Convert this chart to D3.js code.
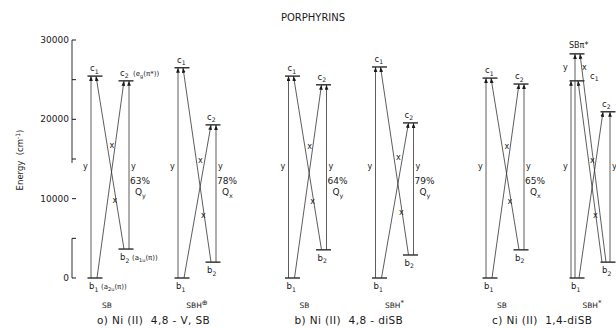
<!DOCTYPE html>
<html>
<head>
<meta charset="utf-8">
<script src="https://cdn.jsdelivr.net/npm/d3@7"></script>
<style>
  body { margin: 0; background: #fff; }
  text { font-family: "DejaVu Sans", sans-serif; fill: #1a1a1a; white-space: pre; }
</style>
</head>
<body>
<svg id="chart" width="616" height="329"></svg>
<script>
// panels and the two diagrams (SB, SBH*) in each
const panels = ['a', 'b', 'c'];
const panelTitles = ['o) Ni (II)  4,8 - V, SB', 'b) Ni (II)  4,8 - diSB', 'c) Ni (II)  1,4-diSB'];
const diagrams = ['SB', 'SBH'];
const diagramLabels = ['SB', 'SBH'];

// orbital energies (cm-1), order: a-SB, a-SBH, b-SB, b-SBH, c-SB, c-SBH
const b1Energy = [0, 0, 0, 0, 0, 0];
const b2Energy = [3650, 2000, 3550, 2900, 3550, 2000];
const c1Energy = [25450, 26500, 25450, 26600, 25200, 24850];
const c2Energy = [24850, 19300, 24350, 19550, 24450, 20950];
const sbPiStarEnergy = 28250; // only in c) SBH*

// y-polarised share of the lowest band
const percents = ['63%', '78%', '64%', '79%', '65%', null];
const qBands = ['y', 'x', 'y', 'y', 'x', null];

const yTicks = [0, 5000, 10000, 15000, 20000, 25000, 30000];
const yTickLabels = [0, 10000, 20000, 30000];
const axisSegments = [[0, 5000], [14500, 30000]];

const svg = d3.select('#chart');

const y = d3.scaleLinear().domain([0, 30000]).range([278, 40]);
const panelX = d3.scalePoint().domain(panels).range([95, 490]);
const diagramX = d3.scalePoint().domain(diagrams).range([0, 87]);
const colX = d3.scalePoint().domain(['L', 'R']).range([0, 31]);

const ink = '#1a1a1a';

// arrow head
svg.append('defs').append('marker')
  .attr('id', 'arrow')
  .attr('viewBox', '0 -3 8 6')
  .attr('refX', 8)
  .attr('refY', 0)
  .attr('markerWidth', 5)
  .attr('markerHeight', 4)
  .attr('markerUnits', 'userSpaceOnUse')
  .attr('orient', 'auto')
  .append('path')
  .attr('d', 'M0,-3L8,0L0,3Z')
  .attr('fill', ink);

// title
svg.append('text')
  .attr('x', 313).attr('y', 21)
  .attr('text-anchor', 'middle')
  .attr('font-size', 10)
  .text('PORPHYRINS');

// energy axis
const axisX = 72;
svg.selectAll('.axis-seg')
  .data(axisSegments)
  .enter()
  .append('line')
  .attr('x1', axisX).attr('x2', axisX)
  .attr('y1', d => y(d[0])).attr('y2', d => y(d[1]))
  .attr('stroke', ink).attr('stroke-width', 0.9);

svg.selectAll('.tick')
  .data(yTicks)
  .enter()
  .append('line')
  .attr('x1', axisX).attr('x2', axisX + 4)
  .attr('y1', d => y(d)).attr('y2', d => y(d))
  .attr('stroke', ink).attr('stroke-width', 1);

svg.selectAll('.tick-label')
  .data(yTickLabels)
  .enter()
  .append('text')
  .attr('x', axisX - 3)
  .attr('y', d => y(d))
  .attr('dy', '0.35em')
  .attr('text-anchor', 'end')
  .attr('font-size', 9)
  .text(d => d);

const yLabel = svg.append('text')
  .attr('transform', 'translate(23,160) rotate(-90)')
  .attr('text-anchor', 'middle')
  .attr('font-size', 8.5);
yLabel.append('tspan').text('Energy  (cm');
yLabel.append('tspan').attr('font-size', 6).attr('dy', -3).text('-1');
yLabel.append('tspan').attr('dy', 3).text(')');

// text with a subscript
function subText(g, x, yy, main, sub, size) {
  const t = g.append('text').attr('x', x).attr('y', yy).attr('font-size', size);
  t.append('tspan').text(main);
  t.append('tspan').attr('font-size', size * 0.72).attr('dy', 2.5).text(sub);
  return t;
}

function seg(g, x1, e1, x2, e2) {
  g.append('line')
    .attr('x1', x1).attr('y1', y(e1))
    .attr('x2', x2).attr('y2', y(e2))
    .attr('stroke', '#333').attr('stroke-width', 0.8)
    .attr('marker-end', 'url(#arrow)');
}

function intersect(p1, p2, p3, p4) {
  const d = (p1[0] - p2[0]) * (p3[1] - p4[1]) - (p1[1] - p2[1]) * (p3[0] - p4[0]);
  const a = p1[0] * p2[1] - p1[1] * p2[0];
  const b = p3[0] * p4[1] - p3[1] * p4[0];
  return [(a * (p3[0] - p4[0]) - (p1[0] - p2[0]) * b) / d,
          (a * (p3[1] - p4[1]) - (p1[1] - p2[1]) * b) / d];
}

panels.forEach((p, pi) => {
  const base = panelX(p);

  svg.append('text')
    .attr('x', base + 2).attr('y', 324)
    .attr('font-size', 10.5)
    .attr('letter-spacing', 0.4)
    .text(panelTitles[pi]);

  diagrams.forEach((dg, di) => {
    const k = pi * 2 + di;
    const g = svg.append('g');
    const lc = base + diagramX(dg) + colX('L');
    const rc = base + diagramX(dg) + colX('R');
    const E = { b1: b1Energy[k], b2: b2Energy[k], c1: c1Energy[k], c2: c2Energy[k] };
    const special = p === 'c' && dg === 'SBH';

    // diagram label under it
    const lab = g.append('text')
      .attr('x', lc + (di ? 15 : 12)).attr('y', 308)
      .attr('text-anchor', 'middle')
      .attr('font-size', 7.5);
    lab.append('tspan').text(diagramLabels[di]);
    lab.append('tspan').attr('dy', -3).attr('font-size', 7)
      .text(di ? (pi === 0 ? '\u2295' : '*') : '');

    // energy levels
    const levels = [
      { id: 'b1', x: lc, e: E.b1 }, { id: 'c1', x: lc, e: E.c1 },
      { id: 'b2', x: rc, e: E.b2 }, { id: 'c2', x: rc, e: E.c2 }
    ];
    if (special) levels.push({ id: 'sb', x: lc, e: sbPiStarEnergy });
    g.selectAll('.level')
      .data(levels)
      .enter()
      .append('line')
      .attr('x1', d => d.x - 7.5).attr('x2', d => d.x + 7.5)
      .attr('y1', d => y(d.e)).attr('y2', d => y(d.e))
      .attr('stroke', ink).attr('stroke-width', 1.3);

    // transitions, arrows at the upper level
    const lv = special ? -6 : -4;
    const rv = special ? 2 : 3;
    const c2x = rc - (special ? 5 : 2);
    const b2x = rc - (special ? 6 : 2);
    seg(g, lc + lv, E.b1, lc + lv, E.c1);
    seg(g, lc + 2, E.b1, c2x, E.c2);
    seg(g, b2x, E.b2, lc + 1, E.c1);
    seg(g, rc + rv, E.b2, rc + rv, E.c2);
    if (special) {
      seg(g, lc - 2, E.b1, lc - 2, sbPiStarEnergy);
      seg(g, rc - 2, E.b2, lc + 3, sbPiStarEnergy);
    }

    // polarisation labels
    const midE = 13700;
    g.append('text').attr('x', lc + lv - 8).attr('y', y(midE)).attr('font-size', 8).text('y');
    g.append('text').attr('x', rc + rv + 2).attr('y', y(midE)).attr('font-size', 8).text('y');
    const ix = intersect([lc + 2, y(E.b1)], [c2x, y(E.c2)], [b2x, y(E.b2)], [lc + 1, y(E.c1)]);
    g.append('text').attr('x', ix[0] - 2).attr('y', ix[1] - 24).attr('font-size', 8).text('x');
    g.append('text').attr('x', ix[0] + 1).attr('y', ix[1] + 31).attr('font-size', 8).text('x');

    if (percents[k]) {
      g.append('text').attr('x', rc + rv + 1).attr('y', y(midE) + 15)
        .attr('font-size', 9).text(percents[k]);
      subText(g, rc + rv + 6, y(midE) + 26, 'Q', qBands[k], 9);
    }

    // level names
    const fs = 8.5;
    subText(g, lc - 6, y(E.b1) + 11, 'b', '1', fs);
    subText(g, rc - 6, y(E.b2) + 11, 'b', '2', fs);
    subText(g, rc - 6, y(E.c2) - 5, 'c', '2', fs);
    if (special) {
      subText(g, lc + 13, y(E.c1) - 2, 'c', '1', fs);
      g.append('text').attr('x', lc - 8).attr('y', y(sbPiStarEnergy) - 6)
        .attr('font-size', 8).text('SB\u03c0*');
      g.append('text').attr('x', lc - 14).attr('y', y((sbPiStarEnergy + E.c1) / 2) + 3)
        .attr('font-size', 8).text('y');
      g.append('text').attr('x', lc + 5).attr('y', y((sbPiStarEnergy + E.c1) / 2) + 3)
        .attr('font-size', 8).text('x');
    } else {
      subText(g, lc - 5, y(E.c1) - 5, 'c', '1', fs);
    }

    // orbital symmetries on the first diagram
    if (pi === 0 && di === 0) {
      const sym = (xx, yy, letter, sub, tail) => {
        const t = g.append('text').attr('x', xx).attr('y', yy).attr('font-size', 7);
        t.append('tspan').text('(' + letter);
        t.append('tspan').attr('font-size', 5).attr('dy', 2).text(sub);
        t.append('tspan').attr('dy', -2).text(tail);
      };
      sym(lc + 6, y(E.b1) + 11, 'a', '2u', '(\u03c0))');
      sym(rc + 6, y(E.b2) + 11, 'a', '1u', '(\u03c0))');
      sym(rc + 7, y(E.c2) - 5, 'e', 'g', '(\u03c0*))');
    }
  });
});
</script>
</body>
</html>
